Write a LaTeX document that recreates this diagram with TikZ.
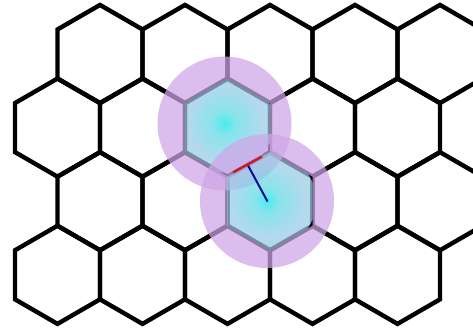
\documentclass[tikz,border=0pt]{standalone}
\definecolor{lilac}{RGB}{206,166,232}
\definecolor{glowcore}{RGB}{0,232,230}
\definecolor{glowmid}{RGB}{90,218,230}
\definecolor{glowedge}{RGB}{155,202,230}
\definecolor{vecblue}{RGB}{10,10,150}
\definecolor{vecred}{RGB}{205,25,40}
\pgfdeclareradialshading{coreglow}{\pgfpoint{0bp}{0bp}}{color(0bp)=(glowcore); color(6bp)=(glowmid); color(20bp)=(glowedge); color(50bp)=(glowedge)}
\tikzset{
  cell/.style={draw=black, line width=4.4pt, line join=miter},
  halo/.style={fill=lilac, opacity=0.72, even odd rule},
  core/.style={shading=coreglow, opacity=0.72},
  dirline/.style={draw=vecblue, line width=2pt},
  barline/.style={draw=vecred, line width=2.6pt},
}
\newcommand\hexpath[2]{(#1,#2) +(90:49.07) -- +(150:49.07) -- +(210:49.07) -- +(270:49.07) -- +(330:49.07) -- +(30:49.07) -- cycle}
\begin{document}
\begin{tikzpicture}[x=1pt,y=-1pt]
\useasboundingbox (0,0) rectangle (473,327);
\clip (0,0) rectangle (473,327);
\fill[white] (0,0) rectangle (473,327);
% lattice
\foreach \cy in {54,201.2}{
  \foreach \cx in {100,185,270,355,440}{
    \draw[cell] \hexpath{\cx}{\cy};
  }
}
\foreach \cy in {127.6,274.8}{
  \foreach \cx in {57.5,142.5,227.5,312.5,397.5}{
    \draw[cell] \hexpath{\cx}{\cy};
  }
}
% glow 1
\coordinate (g1) at (224.5,123.5);
\fill[halo] (g1) circle (67) \hexpath{227.5}{127.6};
\begin{scope}
  \clip \hexpath{227.5}{127.6};
  \shade[core] (g1) circle (49.07);
\end{scope}
% glow 2
\coordinate (g2) at (267,201);
\fill[halo] (g2) circle (67) \hexpath{270}{201.2};
\begin{scope}
  \clip \hexpath{270}{201.2};
  \shade[core] (g2) circle (49.07);
\end{scope}
% vectors
\coordinate (p) at (267.5,201.5);
\coordinate (q) at (247.5,164.5);
\coordinate (r1) at (233,172.4);
\coordinate (r2) at (262,156.6);
\draw[dirline] (p) -- (q);
\draw[barline] (r1) -- (r2);
\end{tikzpicture}
\end{document}
